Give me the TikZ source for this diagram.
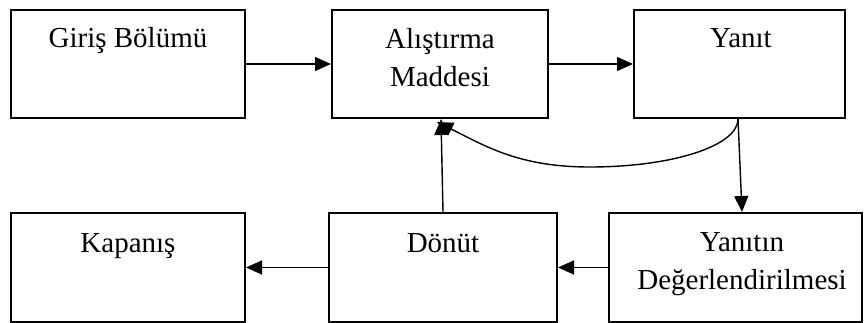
\documentclass[tikz,border=0pt]{standalone}
\usepackage{fontspec}
\setmainfont{Liberation Serif}
\usetikzlibrary{arrows.meta}
\begin{document}
\begin{tikzpicture}[x=1pt,y=-1pt,
  box/.style={draw, line width=2pt, rectangle, minimum height=108pt, inner sep=0pt},
  txt/.style={anchor=base, align=center, inner sep=0pt, font=\fontsize{29}{38}\selectfont},
  flow/.style={line width=1.4pt, -{Triangle[length=16pt,width=14pt]}}]
\useasboundingbox (0,0) rectangle (864,323);

% boxes
\node[box, minimum width=234pt] (giris) at (128,64) {};
\node[box, minimum width=216pt] (alistirma) at (440,64) {};
\node[box, minimum width=211pt] (yanit) at (739.5,64) {};
\node[box, minimum width=234pt, minimum height=109pt] (kapanis) at (128,267.5) {};
\node[box, minimum width=228pt, minimum height=109pt] (donut) at (443,267.5) {};
\node[box, minimum width=253pt, minimum height=109pt] (deger) at (735.5,267.5) {};

% labels (base anchor sits on the last line)
\node[txt] (giris-t) at (128,48) {Giriş Bölümü};
\node[txt] (alistirma-t) at (440,87) {Alıştırma\\Maddesi};
\node[txt] (yanit-t) at (741,48) {Yanıt};
\node[txt] (kapanis-t) at (128,252) {Kapanış};
\node[txt] (donut-t) at (443,252) {Dönüt};
\node[txt] (deger-t) at (742,289) {Yanıtın\\Değerlendirilmesi};

% connectors
\draw[flow] (giris.east) -- (alistirma.west);
\draw[flow] (alistirma.east) -- (yanit.west);
\draw[flow] (donut.west) -- (kapanis.east);
\draw[flow] (deger.west) -- (donut.east);

\coordinate (yout) at ([xshift=-1.5pt]yanit.south);
\coordinate (dip) at (590,167);
\coordinate (back) at ([xshift=-3pt,yshift=-3pt]alistirma.south);

\draw[flow] (yout) -- ([xshift=6.5pt]deger.north);
\draw[flow] (donut.north) -- ([xshift=1pt]alistirma.south);
\draw[flow] (yout) .. controls +(0,27) and +(82,0) .. (dip)
                   .. controls +(-70,0) and +(50,25) .. (back);
\end{tikzpicture}
\end{document}
